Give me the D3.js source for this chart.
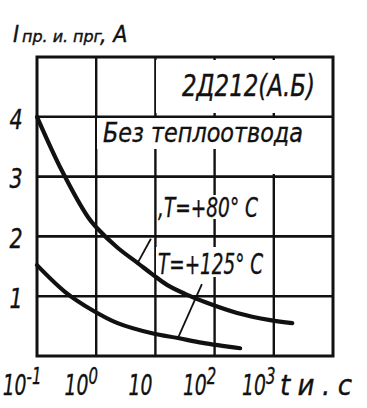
<!DOCTYPE html>
<html>
<head>
<meta charset="utf-8">
<script src="https://cdn.jsdelivr.net/npm/d3@7"></script>
<style>
    body { margin: 0; background: #fff; }
    text { font-family: 'DejaVu Sans Condensed', 'DejaVu Sans', sans-serif; font-style: oblique; fill: #111; stroke: #111; stroke-width: 0.35; }
</style>
</head>
<body>
<div id="chart"></div>
<script>
// data (t in seconds, I in amperes)
const xTicks = [0.1, 1, 10, 100, 1000];
const xTickBase = ['10', '10', '10', '10', '10'];
const xTickPow = ['-1', '0', '', '2', '3'];
const yTicks = [1, 2, 3, 4];

const tHot80 = [0.1, 0.26, 0.73, 1.03, 2.3, 5.1, 8.8, 15.7, 31.6, 74, 240, 870, 2050];
const iHot80 = [4.0, 3.11, 2.32, 2.14, 1.81, 1.55, 1.37, 1.19, 1.04, 0.89, 0.72, 0.6, 0.55];

const tHot125 = [0.1, 0.3, 0.85, 2.3, 8.8, 24, 63, 270];
const iHot125 = [1.52, 1.07, 0.77, 0.55, 0.38, 0.3, 0.22, 0.13];

const leader80 = [[5.1, 1.57], [8.4, 1.96]];
const leader125 = [[24, 0.3], [61, 1.2]];

const yTitle = ['I', 'пр. и. прг', ', A'];
const xTitle = 'tи.c';
const deviceLabel = '2Д212(А.Б)';
const coolingLabel = 'Без теплоотвода';
const label80 = ',T=+80° C';
const label125 = 'T=+125° C';

const width = 367;
const height = 408;
const margin = { top: 57, right: 34, bottom: 52, left: 37 };

const x = d3.scaleLog()
    .domain([0.1, 1e4])
    .range([margin.left, width - margin.right]);
const y = d3.scaleLinear()
    .domain([0, 5])
    .range([height - margin.bottom, margin.top]);

const svg = d3.select('#chart')
    .append('svg')
    .attr('width', width)
    .attr('height', height)
    .attr('viewBox', [0, 0, width, height]);

// grid
svg.append('g')
    .selectAll('line')
    .data(yTicks)
    .join('line')
    .attr('x1', x.range()[0])
    .attr('x2', x.range()[1])
    .attr('y1', (d) => y(d))
    .attr('y2', (d) => y(d))
    .attr('stroke', '#111')
    .attr('stroke-width', 2.6);

svg.append('g')
    .selectAll('line')
    .data(xTicks.slice(1))
    .join('line')
    .attr('x1', (d) => x(d))
    .attr('x2', (d) => x(d))
    .attr('y1', y.range()[1])
    .attr('y2', y.range()[0])
    .attr('stroke', '#111')
    .attr('stroke-width', 2.4);

// white gaps where the lettering breaks the grid
const gaps = [
    [156, 60, 175, 53],
    [97, 118, 234, 31],
    [220, 149, 111, 25],
    [157, 195, 104, 24],
    [156, 247, 108, 30],
];
svg.append('g')
    .selectAll('rect')
    .data(gaps)
    .join('rect')
    .attr('x', (d) => d[0])
    .attr('y', (d) => d[1])
    .attr('width', (d) => d[2])
    .attr('height', (d) => d[3])
    .attr('fill', '#fff');

// frame
svg.append('rect')
    .attr('x', x.range()[0])
    .attr('y', y.range()[1])
    .attr('width', x.range()[1] - x.range()[0])
    .attr('height', y.range()[0] - y.range()[1])
    .attr('fill', 'none')
    .attr('stroke', '#111')
    .attr('stroke-width', 3);

// curves
const line = d3.line()
    .x((d) => x(d[0]))
    .y((d) => y(d[1]))
    .curve(d3.curveCatmullRom.alpha(0.5));

const curves = [
    d3.zip(tHot80, iHot80),
    d3.zip(tHot125, iHot125),
];
svg.append('g')
    .selectAll('path')
    .data(curves)
    .join('path')
    .attr('d', line)
    .attr('fill', 'none')
    .attr('stroke', '#111')
    .attr('stroke-width', 4.2)
    .attr('stroke-linecap', 'round');

svg.append('g')
    .selectAll('path')
    .data([leader80, leader125])
    .join('path')
    .attr('d', d3.line().x((d) => x(d[0])).y((d) => y(d[1])))
    .attr('fill', 'none')
    .attr('stroke', '#111')
    .attr('stroke-width', 1.8);

// narrow lettering: draw the text then squeeze it sideways
function narrowText(px, py, sx, size) {
    return svg.append('g')
        .attr('transform', `translate(${ px },${ py }) scale(${ sx },1)`)
        .append('text')
        .attr('font-size', size);
}

// labels inside the plot
svg.append('text')
    .attr('x', 182)
    .attr('y', 96)
    .attr('font-size', 30)
    .attr('textLength', 133)
    .attr('lengthAdjust', 'spacingAndGlyphs')
    .text(deviceLabel);

svg.append('text')
    .attr('x', 103)
    .attr('y', 142)
    .attr('font-size', 27)
    .attr('textLength', 200)
    .attr('lengthAdjust', 'spacingAndGlyphs')
    .text(coolingLabel);

svg.append('text')
    .attr('x', 158)
    .attr('y', 217)
    .attr('font-size', 27)
    .attr('textLength', 100)
    .attr('lengthAdjust', 'spacingAndGlyphs')
    .text(label80);

svg.append('text')
    .attr('x', 158)
    .attr('y', 274)
    .attr('font-size', 28)
    .attr('textLength', 105)
    .attr('lengthAdjust', 'spacingAndGlyphs')
    .text(label125);

// y tick labels
yTicks.forEach((d) => {
    narrowText(16, y(d) + 2, 0.85, 27)
        .attr('dy', '0.36em')
        .attr('text-anchor', 'middle')
        .text(d);
});

// x tick labels, power of ten with raised exponent
xTicks.forEach((d, i) => {
    const t = narrowText(x(d) - 15, 395, 0.72, 29)
        .attr('text-anchor', 'middle');
    t.append('tspan').text(xTickBase[i]);
    t.append('tspan')
        .attr('dy', -11)
        .attr('font-size', 23)
        .text(xTickPow[i]);
});

svg.append('text')
    .attr('x', 280)
    .attr('y', 395)
    .attr('font-size', 29)
    .attr('textLength', 72)
    .attr('lengthAdjust', 'spacing')
    .text(xTitle);

// y title
const title = svg.append('text')
    .attr('x', 13)
    .attr('y', 42);
title.append('tspan')
    .attr('font-size', 23)
    .text(yTitle[0]);
title.append('tspan')
    .attr('x', 22)
    .attr('font-size', 15)
    .attr('textLength', 80)
    .attr('lengthAdjust', 'spacingAndGlyphs')
    .text(yTitle[1]);
title.append('tspan')
    .attr('x', 100)
    .attr('font-size', 23)
    .text(yTitle[2]);
</script>
</body>
</html>
